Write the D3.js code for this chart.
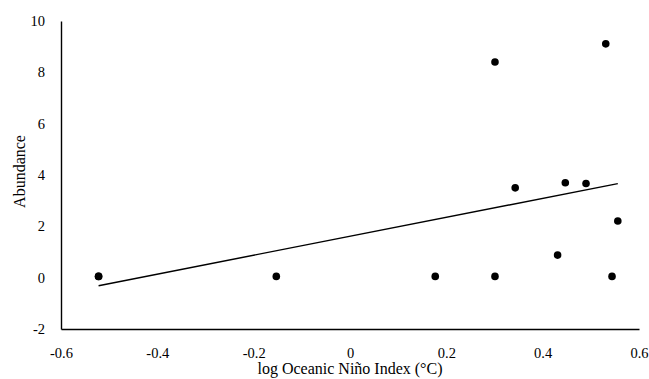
<!DOCTYPE html>
<html>
<head>
<meta charset="utf-8">
<script src="https://cdn.jsdelivr.net/npm/d3@7"></script>
<style>
    body { margin: 0; background: #fff; }
    text { font-family: "Liberation Serif", "Times New Roman", serif; fill: #000; }
</style>
</head>
<body>
<div id="chart"></div>
<script>
// log ONI vs abundance
const oniValues = [-0.522, -0.522, -0.153, 0.177, 0.301, 0.301, 0.343, 0.431, 0.447, 0.490, 0.531, 0.544, 0.556];
const abundanceValues = [0.05, 0.05, 0.05, 0.05, 0.05, 8.40, 3.50, 0.88, 3.70, 3.67, 9.11, 0.05, 2.21];
const xTicks = [-0.6, -0.4, -0.2, 0, 0.2, 0.4, 0.6];
const yTicks = [-2, 0, 2, 4, 6, 8, 10];

const points = oniValues.map((x, i) => ({x: x, y: abundanceValues[i]}));

const margin = {top: 21, right: 10, bottom: 50, left: 61};
const height = 379 - margin.top - margin.bottom;

const xScale = d3.scaleLinear().domain([-0.6, 0.6]).range([0, 578]);
const yScale = d3.scaleLinear().domain([-2, 10]).range([308, 0]);

// plain hyphen for negatives, like the source
const fmt = d => d === 0 ? "0" : String(d3.format(".1f")(d)).replace("\u2212", "-");

const svg = d3.select("#chart").append("svg")
    .attr("width", 649)
    .attr("height", 379);

const g = svg.append("g")
    .attr("transform", `translate(${margin.left}, ${margin.top})`);

// axes: plain lines, labels, no tick marks
const xAxis = g.append("g")
    .attr("transform", `translate(0, ${yScale(-2)})`)
    .call(d3.axisBottom(xScale).tickValues(xTicks).tickSize(0).tickPadding(19).tickFormat(fmt));
xAxis.select(".domain").attr("stroke", "#000").attr("stroke-width", 1.4);

const yAxis = g.append("g")
    .call(d3.axisLeft(yScale).tickValues(yTicks).tickSize(0).tickPadding(16)
        .tickFormat(d => String(d).replace("\u2212", "-")));
yAxis.select(".domain").attr("stroke", "#000").attr("stroke-width", 1.4);

g.selectAll(".tick text")
    .style("font-family", "'Liberation Serif', serif")
    .style("font-size", "14.5px");

// linear trend line (least squares)
const mx = d3.mean(points, d => d.x);
const my = d3.mean(points, d => d.y);
const slope = d3.sum(points, d => (d.x - mx) * (d.y - my)) /
              d3.sum(points, d => (d.x - mx) * (d.x - mx));
const icpt = my - slope * mx;
const [x0, x1] = d3.extent(oniValues);

g.append("line")
    .attr("x1", xScale(x0))
    .attr("y1", yScale(icpt + slope * x0))
    .attr("x2", xScale(x1))
    .attr("y2", yScale(icpt + slope * x1))
    .attr("stroke", "#000")
    .attr("stroke-width", 1.4);

g.selectAll(".dot")
    .data(points)
    .enter().append("circle")
    .attr("class", "dot")
    .attr("cx", d => xScale(d.x))
    .attr("cy", d => yScale(d.y))
    .attr("r", 3.8)
    .attr("fill", "#000");

// axis titles
svg.append("text")
    .attr("x", margin.left + xScale(0))
    .attr("y", 374)
    .attr("text-anchor", "middle")
    .style("font-size", "16px")
    .text("log Oceanic Niño Index (°C)");

svg.append("text")
    .attr("transform", `translate(25, ${margin.top + height / 2 - 3.5}) rotate(-90)`)
    .attr("text-anchor", "middle")
    .style("font-size", "16px")
    .text("Abundance");
</script>
</body>
</html>
